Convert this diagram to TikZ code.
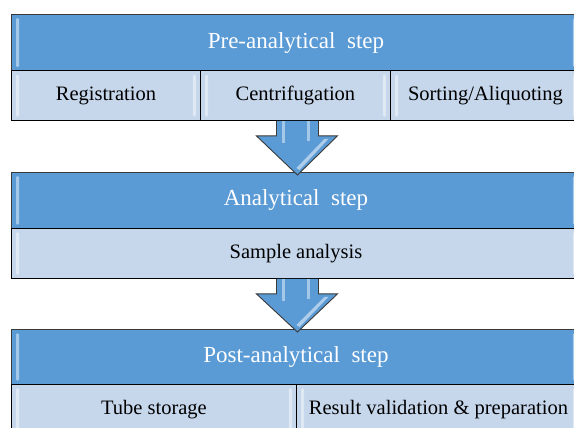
\documentclass[tikz,border=0pt]{standalone}
\usepackage{fontspec}
\setmainfont{Liberation Serif}
\usetikzlibrary{calc}
\definecolor{hdr}{HTML}{5B9BD5}
\definecolor{subc}{HTML}{C6D7EC}
\definecolor{edge}{HTML}{3A3A3A}
\definecolor{arrowc}{HTML}{5B9BD5}
\newcommand\glosscell[1]{%
  \fill[white,opacity=.45,rounded corners=1.5pt] ($(#1.north west)+(5,4)$) rectangle ($(#1.south west)+(8,-4)$);
  \fill[white,opacity=.45,rounded corners=1.5pt] ($(#1.north east)+(-8,4)$) rectangle ($(#1.south east)+(-5,-4)$);}
\newcommand\blockarrow[2]{%
  \fill[arrowc] ($(#1)+(-21,0)$) -- ($(#1)+(-21,15)$) -- ($(#1)+(-41,15)$) -- ($(#2)+(0,3)$) -- ($(#1)+(40,15)$) -- ($(#1)+(21,15)$) -- ($(#1)+(21,0)$) -- cycle;
  \fill[white,opacity=.45] ($(#1)+(-15,0)$) rectangle ($(#1)+(-12,22)$);
  \fill[white,opacity=.45] ($(#1)+(10,0)$) rectangle ($(#1)+(13,20)$);
  \fill[white,opacity=.5] ($(#1)+(27,18)$) -- ($(#1)+(31,18)$) -- ($(#2)+(2,-2)$) -- ($(#2)+(-1,-4)$) -- cycle;
  \draw[edge,line width=0.9pt,line join=miter] ($(#1)+(-21,0)$) -- ($(#1)+(-21,15)$) -- ($(#1)+(-41,15)$) -- ($(#2)+(0,3)$) -- ($(#1)+(40,15)$) -- ($(#1)+(21,15)$) -- ($(#1)+(21,0)$);}
\begin{document}
\begin{tikzpicture}[x=1pt,y=-1pt,
  hdrcell/.style={draw=edge, line width=0.9pt, fill=hdr, text=white,
    font=\fontsize{23}{26}\selectfont, anchor=north west, inner sep=0pt},
  subcell/.style={draw=black, line width=0.9pt, fill=subc, text=black,
    font=\fontsize{20.5}{24}\selectfont, anchor=north west, inner sep=0pt}]
\useasboundingbox (0,0) rectangle (574,428);
\clip (0,0) rectangle (574,428);
\fill[white] (0,0) rectangle (574,428);
% Box 1
\node[hdrcell, minimum width=569pt, minimum height=56.5pt] (h1) at (11,14) {\raisebox{-1.5pt}{Pre-analytical\ \ step}};
\node[subcell, minimum width=189pt, minimum height=49.5pt] (r1a) at (11,70.5) {\raisebox{-1pt}{Registration}};
\node[subcell, minimum width=190pt, minimum height=49.5pt] (r1b) at (200,70.5) {\raisebox{-1pt}{Centrifugation}};
\node[subcell, minimum width=190pt, minimum height=49.5pt] (r1c) at (390,70.5) {\raisebox{-1pt}{Sorting/Aliquoting}};
% Box 2
\node[hdrcell, minimum width=569pt, minimum height=56pt] (h2) at (11,172) {\raisebox{-1.5pt}{Analytical\ \ step}};
\node[subcell, minimum width=569pt, minimum height=50pt] (r2) at (11,228) {\raisebox{-1pt}{Sample analysis}};
% Box 3
\node[hdrcell, minimum width=569pt, minimum height=55pt] (h3) at (11,329) {\raisebox{-1.5pt}{Post-analytical\ \ step}};
\node[subcell, minimum width=285pt, minimum height=50pt] (r3a) at (11,384) {\raisebox{-1pt}{Tube storage}};
\node[subcell, minimum width=284pt, minimum height=50pt] (r3b) at (296,384) {\raisebox{-1pt}{Result validation \& preparation}};
% gloss
\foreach \n in {h1,r1a,r1b,r1c,h2,r2,h3,r3a,r3b} {\glosscell{\n}}
% arrows
\coordinate (a1s) at ($(r1b.south)+(2,0)$);
\coordinate (a1e) at ($(h2.north)+(1.5,0)$);
\coordinate (a2s) at ($(r2.south)+(1.5,0)$);
\coordinate (a2e) at ($(h3.north)+(1.5,0)$);
\blockarrow{a1s}{a1e}
\blockarrow{a2s}{a2e}
\end{tikzpicture}
\end{document}
